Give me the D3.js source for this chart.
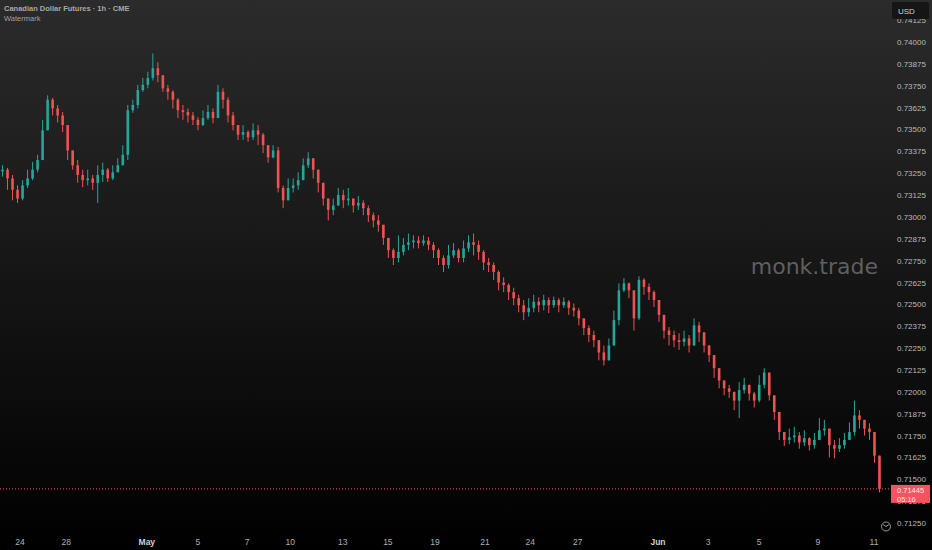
<html>
<head>
<meta charset="utf-8">
<title>Canadian Dollar Futures</title>
<script src="https://d3js.org/d3.v7.min.js"></script>
<style>
  body { margin: 0; background: #000; }
  text { font-family: "Liberation Sans", Arial, sans-serif; }
</style>
</head>
<body>
<div id="chart"></div>
<script>
// hourly candles (roughly one every 5 bars)
const closes = [
  0.73270, 0.73220, 0.73155, 0.73105, 0.73180, 0.73220, 0.73270, 0.73325, 0.73495, 0.73670,
  0.73620, 0.73580, 0.73525, 0.73380, 0.73295, 0.73240, 0.73210, 0.73220, 0.73195, 0.73240,
  0.73270, 0.73220, 0.73255, 0.73295, 0.73355, 0.73610, 0.73640, 0.73725, 0.73755, 0.73795,
  0.73850, 0.73810, 0.73735, 0.73715, 0.73670, 0.73610, 0.73600, 0.73580, 0.73555, 0.73525,
  0.73565, 0.73600, 0.73565, 0.73715, 0.73670, 0.73580, 0.73525, 0.73470, 0.73485, 0.73455,
  0.73495, 0.73470, 0.73410, 0.73340, 0.73380, 0.73165, 0.73095, 0.73165, 0.73180, 0.73210,
  0.73295, 0.73335, 0.73270, 0.73195, 0.73105, 0.73040, 0.73065, 0.73125, 0.73095, 0.73105,
  0.73065, 0.73080, 0.73050, 0.73010, 0.72980, 0.72955, 0.72880, 0.72810, 0.72765, 0.72800,
  0.72840, 0.72855, 0.72865, 0.72850, 0.72865, 0.72840, 0.72810, 0.72765, 0.72725, 0.72780,
  0.72810, 0.72765, 0.72820, 0.72855, 0.72840, 0.72800, 0.72740, 0.72725, 0.72685, 0.72625,
  0.72610, 0.72570, 0.72535, 0.72495, 0.72455, 0.72480, 0.72515, 0.72495, 0.72525, 0.72495,
  0.72525, 0.72495, 0.72515, 0.72480, 0.72465, 0.72420, 0.72365, 0.72325, 0.72295, 0.72225,
  0.72180, 0.72265, 0.72410, 0.72580, 0.72620, 0.72580, 0.72420, 0.72640, 0.72600, 0.72570,
  0.72525, 0.72440, 0.72350, 0.72325, 0.72295, 0.72285, 0.72305, 0.72265, 0.72380, 0.72340,
  0.72265, 0.72210, 0.72135, 0.72065, 0.72020, 0.72000, 0.71950, 0.72010, 0.72040, 0.71990,
  0.71950, 0.72040, 0.72110, 0.71980, 0.71885, 0.71770, 0.71725, 0.71740, 0.71750, 0.71710,
  0.71735, 0.71695, 0.71725, 0.71780, 0.71790, 0.71695, 0.71675, 0.71695, 0.71725, 0.71770,
  0.71865, 0.71840, 0.71790, 0.71770, 0.71635, 0.71445
];
const highs = [
  0.73295, 0.73280, 0.73240, 0.73180, 0.73210, 0.73270, 0.73315, 0.73355, 0.73555, 0.73695,
  0.73680, 0.73640, 0.73600, 0.73525, 0.73355, 0.73325, 0.73270, 0.73270, 0.73240, 0.73295,
  0.73310, 0.73280, 0.73295, 0.73335, 0.73410, 0.73640, 0.73670, 0.73755, 0.73795, 0.73830,
  0.73935, 0.73885, 0.73810, 0.73755, 0.73725, 0.73680, 0.73640, 0.73620, 0.73600, 0.73570,
  0.73610, 0.73640, 0.73620, 0.73755, 0.73735, 0.73685, 0.73600, 0.73525, 0.73525, 0.73495,
  0.73535, 0.73525, 0.73480, 0.73410, 0.73410, 0.73400, 0.73180, 0.73220, 0.73220, 0.73255,
  0.73335, 0.73370, 0.73325, 0.73270, 0.73165, 0.73095, 0.73105, 0.73165, 0.73155, 0.73165,
  0.73105, 0.73120, 0.73095, 0.73065, 0.73025, 0.73010, 0.72955, 0.72865, 0.72820, 0.72895,
  0.72880, 0.72905, 0.72895, 0.72890, 0.72895, 0.72885, 0.72855, 0.72820, 0.72780, 0.72840,
  0.72850, 0.72820, 0.72865, 0.72895, 0.72905, 0.72865, 0.72810, 0.72765, 0.72740, 0.72695,
  0.72655, 0.72620, 0.72595, 0.72555, 0.72525, 0.72535, 0.72555, 0.72540, 0.72555, 0.72540,
  0.72545, 0.72535, 0.72540, 0.72525, 0.72505, 0.72480, 0.72420, 0.72380, 0.72350, 0.72295,
  0.72265, 0.72305, 0.72465, 0.72620, 0.72650, 0.72625, 0.72525, 0.72660, 0.72650, 0.72620,
  0.72580, 0.72505, 0.72420, 0.72370, 0.72350, 0.72335, 0.72350, 0.72325, 0.72420, 0.72400,
  0.72325, 0.72265, 0.72210, 0.72125, 0.72065, 0.72040, 0.72000, 0.72055, 0.72080, 0.72040,
  0.72000, 0.72095, 0.72135, 0.72065, 0.71965, 0.71865, 0.71770, 0.71790, 0.71800, 0.71770,
  0.71780, 0.71740, 0.71765, 0.71850, 0.71840, 0.71780, 0.71725, 0.71735, 0.71765, 0.71825,
  0.71950, 0.71895, 0.71840, 0.71820, 0.71750, 0.71635
];
const lows = [
  0.73230, 0.73155, 0.73095, 0.73080, 0.73095, 0.73165, 0.73210, 0.73255, 0.73325, 0.73495,
  0.73580, 0.73540, 0.73485, 0.73325, 0.73270, 0.73195, 0.73170, 0.73180, 0.73155, 0.73080,
  0.73200, 0.73200, 0.73210, 0.73255, 0.73295, 0.73325, 0.73595, 0.73620, 0.73715, 0.73735,
  0.73780, 0.73770, 0.73715, 0.73670, 0.73620, 0.73565, 0.73555, 0.73540, 0.73525, 0.73495,
  0.73520, 0.73555, 0.73535, 0.73565, 0.73620, 0.73540, 0.73495, 0.73440, 0.73440, 0.73430,
  0.73440, 0.73410, 0.73365, 0.73310, 0.73335, 0.73140, 0.73050, 0.73125, 0.73140, 0.73155,
  0.73220, 0.73280, 0.73220, 0.73140, 0.73065, 0.72980, 0.73010, 0.73065, 0.73050, 0.73065,
  0.73025, 0.73040, 0.73010, 0.72970, 0.72940, 0.72915, 0.72840, 0.72765, 0.72725, 0.72740,
  0.72780, 0.72810, 0.72820, 0.72820, 0.72835, 0.72810, 0.72765, 0.72725, 0.72685, 0.72705,
  0.72765, 0.72740, 0.72740, 0.72800, 0.72780, 0.72755, 0.72695, 0.72685, 0.72640, 0.72580,
  0.72570, 0.72525, 0.72495, 0.72455, 0.72410, 0.72430, 0.72455, 0.72455, 0.72465, 0.72450,
  0.72480, 0.72455, 0.72480, 0.72440, 0.72430, 0.72380, 0.72325, 0.72285, 0.72255, 0.72180,
  0.72150, 0.72210, 0.72265, 0.72380, 0.72570, 0.72535, 0.72350, 0.72410, 0.72555, 0.72525,
  0.72485, 0.72400, 0.72305, 0.72265, 0.72255, 0.72240, 0.72260, 0.72225, 0.72295, 0.72285,
  0.72225, 0.72170, 0.72080, 0.72020, 0.71980, 0.71965, 0.71895, 0.71850, 0.71990, 0.71950,
  0.71910, 0.71940, 0.72020, 0.71950, 0.71840, 0.71725, 0.71690, 0.71700, 0.71710, 0.71675,
  0.71690, 0.71665, 0.71675, 0.71725, 0.71750, 0.71625, 0.71620, 0.71655, 0.71675, 0.71725,
  0.71750, 0.71790, 0.71750, 0.71725, 0.71595, 0.71425
];
const firstOpen = 0.73260;

const priceTicks = [
  0.74125, 0.74000, 0.73875, 0.73750, 0.73625, 0.73500, 0.73375, 0.73250, 0.73125, 0.73000,
  0.72875, 0.72750, 0.72625, 0.72500, 0.72375, 0.72250, 0.72125, 0.72000, 0.71875, 0.71750,
  0.71625, 0.71500, 0.71375, 0.71250
];
// date labels and the bar (slot) where each one sits
const timeLabels = ["24", "28", "May", "5", "7", "10", "13", "15", "19", "21", "24", "27", "Jun", "3", "5", "9", "11"];
const timeSlots = [4.0, 13.2, 29.3, 39.5, 49.3, 57.9, 68.4, 77.4, 86.8, 96.8, 105.8, 115.3, 131.3, 141.3, 151.5, 163.2, 174.4];
const monthLabels = ["May", "Jun"];

const title = "Canadian Dollar Futures \u00b7 1h \u00b7 CME";
const lastPrice = 0.71445;
const countdown = "05:16";

const width = 932, height = 550, plotRight = 882, axisX = 897;
const upColor = "#26a69a", downColor = "#ef5350";

const candles = closes.map((c, i) => ({
  i: i,
  open: i === 0 ? firstOpen : closes[i - 1],
  close: c,
  high: highs[i],
  low: lows[i]
}));

const x = d3.scaleLinear().domain([0, candles.length]).range([0, plotRight]);
const y = d3.scaleLinear().domain([0.71250, 0.74000]).range([523, 42]);
const step = x(1) - x(0);

const svg = d3.select("#chart").append("svg")
  .attr("width", width)
  .attr("height", height);

const grad = svg.append("defs").append("linearGradient")
  .attr("id", "bg").attr("x1", 0).attr("y1", 0).attr("x2", 0).attr("y2", 1);
grad.append("stop").attr("offset", "0%").attr("stop-color", "#2b2b2b");
grad.append("stop").attr("offset", "100%").attr("stop-color", "#000000");

svg.append("rect").attr("width", width).attr("height", height).attr("fill", "url(#bg)");

// watermark
svg.append("text")
  .attr("x", 878).attr("y", 274)
  .attr("text-anchor", "end")
  .style("font-family", "DejaVu Sans")
  .style("font-size", "22px")
  .attr("fill", "#5f5f5f")
  .text("monk.trade");

// candles
const g = svg.append("g").selectAll("g")
  .data(candles)
  .enter()
  .append("g")
  .attr("fill", d => d.close >= d.open ? upColor : downColor);

g.append("rect")
  .attr("x", d => x(d.i + 0.5) - 0.5)
  .attr("width", 1)
  .attr("y", d => y(Math.max(d.high, d.open, d.close)))
  .attr("height", d => y(Math.min(d.low, d.open, d.close)) - y(Math.max(d.high, d.open, d.close)));

g.append("rect")
  .attr("x", d => x(d.i + 0.5) - step * 0.26)
  .attr("width", step * 0.52)
  .attr("y", d => y(Math.max(d.open, d.close)))
  .attr("height", d => Math.max(1, Math.abs(y(d.open) - y(d.close))));

// last price line
svg.append("line")
  .attr("x1", 0).attr("x2", 891)
  .attr("y1", y(lastPrice)).attr("y2", y(lastPrice))
  .attr("stroke", "#f7525f")
  .attr("stroke-width", 1)
  .attr("stroke-dasharray", "1,2");

// price axis
svg.append("g").selectAll("text")
  .data(priceTicks)
  .enter()
  .append("text")
  .attr("x", axisX)
  .attr("y", d => y(d) + 3)
  .style("font-size", "8px")
  .attr("fill", "#b8b8b8")
  .text(d => d.toFixed(5));

// USD box
svg.append("rect")
  .attr("x", 892).attr("y", 2).attr("width", 37).attr("height", 17).attr("rx", 2)
  .attr("fill", "#151515");
svg.append("text")
  .attr("x", 898).attr("y", 13.5)
  .style("font-size", "8px")
  .attr("fill", "#d0d0d0")
  .text("USD");

// last price label, drawn over the tick it hides
svg.append("rect")
  .attr("x", 891).attr("y", y(lastPrice) - 4).attr("width", 39).attr("height", 18)
  .attr("fill", "#f7525f");
svg.append("text")
  .attr("x", 897).attr("y", y(lastPrice) + 4.5)
  .style("font-size", "7.5px")
  .attr("fill", "#ffe6e6")
  .text(lastPrice.toFixed(5));
svg.append("text")
  .attr("x", 897).attr("y", y(lastPrice) + 12.8)
  .style("font-size", "7.5px")
  .attr("fill", "#ffe6e6")
  .text(countdown);

// time axis
svg.append("g").selectAll("text")
  .data(timeLabels)
  .enter()
  .append("text")
  .attr("x", (d, i) => x(timeSlots[i]))
  .attr("y", 545)
  .attr("text-anchor", "middle")
  .style("font-size", "8.5px")
  .style("font-weight", d => monthLabels.includes(d) ? "bold" : "normal")
  .attr("fill", d => monthLabels.includes(d) ? "#d0d0d0" : "#b0b0b0")
  .text(d => d);

// small clock icon
svg.append("circle")
  .attr("cx", 886).attr("cy", 526.5).attr("r", 4.5)
  .attr("fill", "none").attr("stroke", "#9a9a9a").attr("stroke-width", 1);
svg.append("path")
  .attr("d", "M883,524.5 L886,526.5 L889,524.5")
  .attr("fill", "none").attr("stroke", "#9a9a9a").attr("stroke-width", 1);

// header
svg.append("text")
  .attr("x", 4).attr("y", 11)
  .style("font-size", "7.5px")
  .style("font-weight", "bold")
  .attr("fill", "#a8a8a8")
  .text(title);
svg.append("text")
  .attr("x", 4).attr("y", 21)
  .style("font-size", "7.5px")
  .attr("fill", "#a0a0a0")
  .text("Watermark");
</script>
</body>
</html>
